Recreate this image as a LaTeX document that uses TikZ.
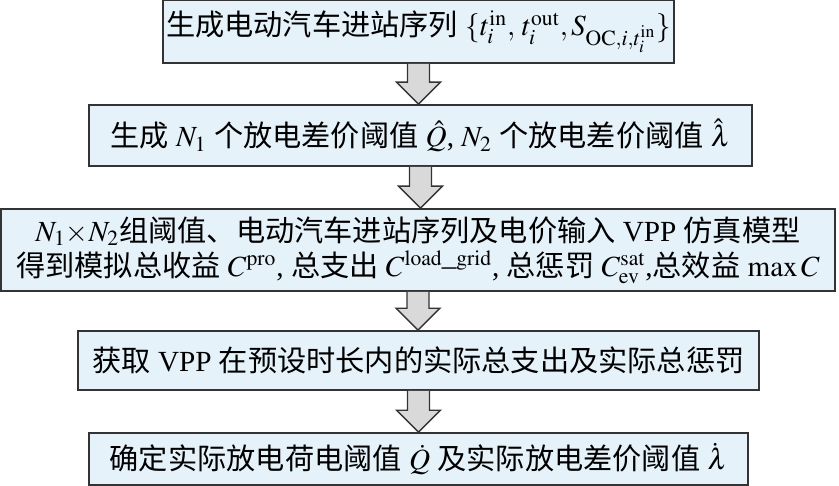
\documentclass[tikz,border=0pt]{standalone}
\usepackage{mathptmx}
\usepackage{fontspec}
\setmainfont{Liberation Serif}
\newfontfamily\cjk{Noto Sans CJK SC}
\usetikzlibrary{positioning,calc}
\definecolor{boxblue}{HTML}{E6F2FA}
\definecolor{edgegray}{HTML}{333333}
\definecolor{arrowgray}{HTML}{D9D9D9}

\begin{document}
\begin{tikzpicture}[x=0.5pt,y=-0.5pt,
    box/.style={draw=edgegray,line width=0.8pt,fill=boxblue,rectangle,inner sep=0pt,align=center,font=\fontsize{14.6}{17.5}\selectfont},
    blockarrow/.style={draw=edgegray,line width=0.7pt,fill=arrowgray,line join=miter}]
        \useasboundingbox (0,0) rectangle (839,486);
        \node[box,minimum width=255.5pt,minimum height=31.5pt] (gen) at (418.5,31.5)
            {{\cjk 生成电动汽车进站序列} $\{t_i^{\mathrm{in}},\, t_i^{\mathrm{out}},S_{\mathrm{OC},i,t_i^{\mathrm{in}}}\}$};
        \node[box,minimum width=331.5pt,minimum height=30.5pt] (thr) at (420.5,135.5)
            {{\cjk 生成} $N_1$ {\cjk 个放电差价阈值} $\hat{Q}$, $N_2$ {\cjk 个放电差价阈值} $\hat{\lambda}$};
        \node[box,minimum width=417pt,minimum height=41pt] (sim) at (418,250)
            {$N_1{\times}N_2${\cjk 组阈值、电动汽车进站序列及电价输入} VPP {\cjk 仿真模型}\\
             {\cjk 得到模拟总收益} $C^{\mathrm{pro}}$, {\cjk 总支出} $C^{\mathrm{load\_grid}}$, {\cjk 总惩罚} $C^{\mathrm{sat}}_{\mathrm{ev}}$,{\cjk 总效益} $\max C$};
        \node[box,minimum width=340.5pt,minimum height=29.5pt] (act) at (418.5,360.5)
            {{\cjk 获取} VPP {\cjk 在预设时长内的实际总支出及实际总惩罚}};
        \node[box,minimum width=329.5pt,minimum height=26pt] (res) at (418.5,459)
            {{\cjk 确定实际放电荷电阈值} $\dot{Q}$ {\cjk 及实际放电差价阈值} $\dot{\lambda}$};
        \foreach \from/\to in {gen/thr, thr/sim, sim/act, act/res}
        \draw[blockarrow] ($(\from.south)+(-11,0)$) -- ($(\to.north -| \from.south)+(-11,-22)$)
            -- ($(\to.north -| \from.south)+(-22,-22)$) -- (\to.north -| \from.south)
            -- ($(\to.north -| \from.south)+(22,-22)$) -- ($(\to.north -| \from.south)+(11,-22)$)
            -- ($(\from.south)+(11,0)$);
    \end{tikzpicture}
\end{document}
